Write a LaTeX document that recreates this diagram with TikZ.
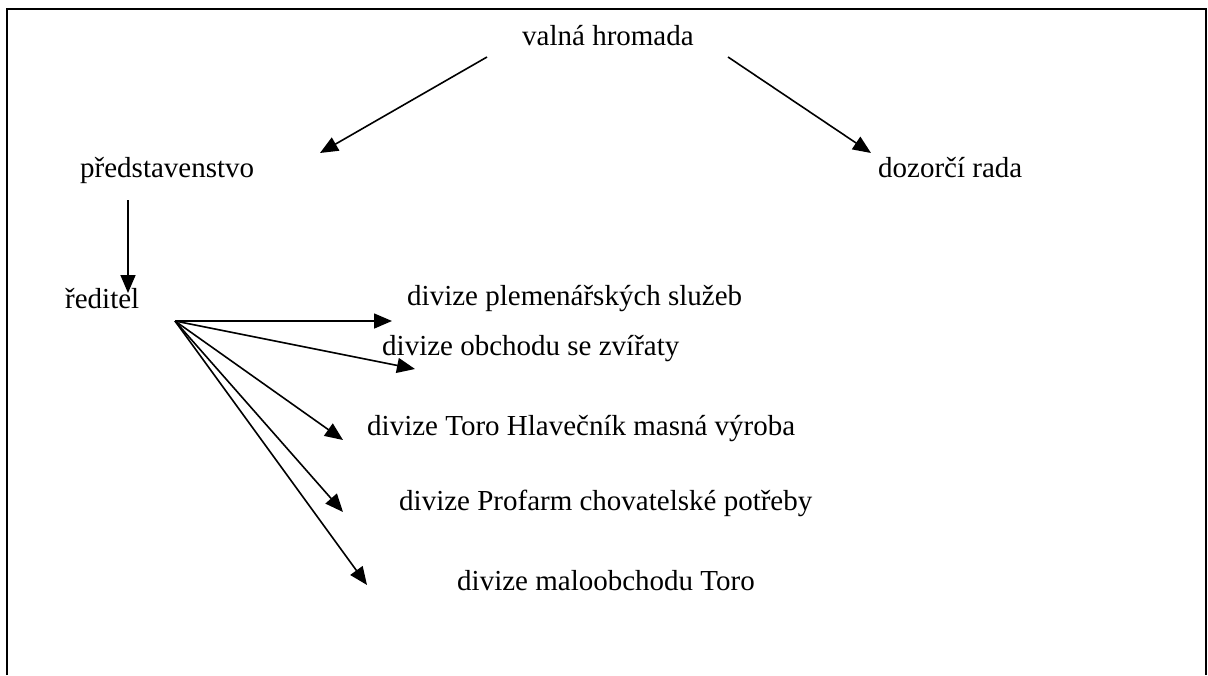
\documentclass[tikz,border=0pt]{standalone}
\usepackage{fontspec}
\setmainfont{Liberation Serif}
\usetikzlibrary{arrows.meta}
\begin{document}
\begin{tikzpicture}[x=1pt,y=-1pt,
  lbl/.style={anchor=base west,inner sep=0pt,font=\fontsize{29}{34}\selectfont},
  conn/.style={line width=1.6pt,-{Triangle[length=18pt,width=15pt]}},
  frame/.style={line width=2.2pt}]
\useasboundingbox (0,0) rectangle (1208,675);
\draw[frame] (7,675) -- (7,9) -- (1206,9) -- (1206,675);

\node[lbl] (vh) at (522,45) {valná hromada};
\node[lbl] (pr) at (80,177) {představenstvo};
\node[lbl] (dr) at (878,177) {dozorčí rada};
\node[lbl] (re) at (65,308) {ředitel};
\node[lbl] (d1) at (407,305) {divize plemenářských služeb};
\node[lbl] (d2) at (382,355) {divize obchodu se zvířaty};
\node[lbl] (d3) at (367,435) {divize Toro Hlavečník masná výroba};
\node[lbl] (d4) at (399,510) {divize Profarm chovatelské potřeby};
\node[lbl] (d5) at (457,590) {divize maloobchodu Toro};

\coordinate (vhL) at (487,57);
\coordinate (vhR) at (728,57);
\coordinate (prT) at (320,153);
\coordinate (drT) at (871,153);
\coordinate (prB) at (128,200);
\coordinate (reT) at (128,293);
\coordinate (reO) at (175,321);
\coordinate (t1) at (392,321);
\coordinate (t2) at (415,369);
\coordinate (t3) at (343,440);
\coordinate (t4) at (343,512);
\coordinate (t5) at (367,585);

\draw[conn] (vhL) -- (prT);
\draw[conn] (vhR) -- (drT);
\draw[conn] (prB) -- (reT);
\draw[conn] (reO) -- (t1);
\draw[conn] (reO) -- (t2);
\draw[conn] (reO) -- (t3);
\draw[conn] (reO) -- (t4);
\draw[conn] (reO) -- (t5);
\end{tikzpicture}
\end{document}
